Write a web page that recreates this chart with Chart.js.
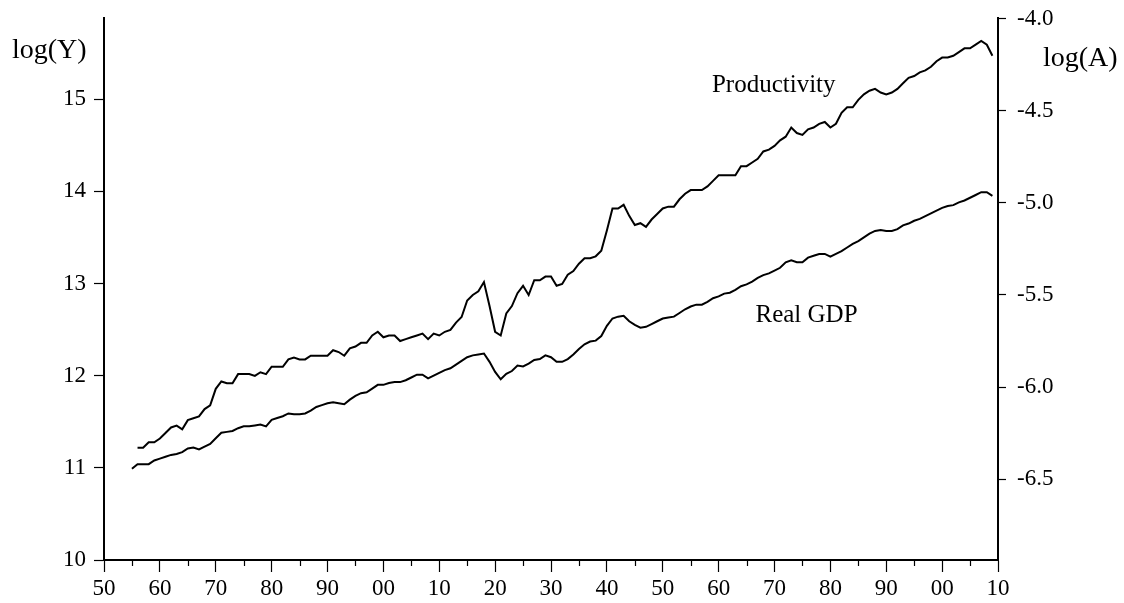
<!DOCTYPE html>
<html><head><meta charset="utf-8">
<script src="https://cdn.jsdelivr.net/npm/chart.js@4.4.1/dist/chart.umd.min.js"></script>
<style>html,body{margin:0;padding:0;background:#fff;}#wrap{width:1124px;height:603px;}</style>
</head><body><div id="wrap"><canvas id="c" width="1124" height="603"></canvas></div>
<script>
// ---- data ----
const gdpStartYear = 1855;
const realGDP = [
  10.99,11.04,11.04,11.04,11.08,                       // 1855-1859
  11.10,11.12,11.14,11.15,11.17,11.21,11.22,11.20,11.23,11.26, // 1860s
  11.32,11.38,11.39,11.40,11.43,11.45,11.45,11.46,11.47,11.45, // 1870s
  11.52,11.54,11.56,11.59,11.58,11.58,11.59,11.62,11.66,11.68, // 1880s
  11.70,11.71,11.70,11.69,11.74,11.78,11.81,11.82,11.86,11.90, // 1890s
  11.90,11.92,11.93,11.93,11.95,11.98,12.01,12.01,11.97,12.00, // 1900s
  12.03,12.06,12.08,12.12,12.16,12.20,12.22,12.23,12.24,12.15, // 1910s
  12.04,11.96,12.02,12.05,12.11,12.10,12.13,12.17,12.18,12.22, // 1920s
  12.20,12.15,12.15,12.18,12.23,12.29,12.34,12.37,12.38,12.43, // 1930s
  12.54,12.62,12.64,12.65,12.59,12.55,12.52,12.53,12.56,12.59, // 1940s
  12.62,12.63,12.64,12.68,12.72,12.75,12.77,12.77,12.80,12.84, // 1950s
  12.86,12.89,12.90,12.93,12.97,12.99,13.02,13.06,13.09,13.11, // 1960s
  13.14,13.17,13.23,13.25,13.23,13.23,13.28,13.30,13.32,13.32, // 1970s
  13.29,13.32,13.35,13.39,13.43,13.46,13.50,13.54,13.57,13.58, // 1980s
  13.57,13.57,13.59,13.63,13.65,13.68,13.70,13.73,13.76,13.79, // 1990s
  13.82,13.84,13.85,13.88,13.90,13.93,13.96,13.99,13.99,13.95  // 2000s
];
const prodStartYear = 1856;
const productivity = [
  -6.33,-6.33,-6.30,-6.30,                                     // 1856-1859
  -6.28,-6.25,-6.22,-6.21,-6.23,-6.18,-6.17,-6.16,-6.12,-6.10, // 1860s
  -6.01,-5.97,-5.98,-5.98,-5.93,-5.93,-5.93,-5.94,-5.92,-5.93, // 1870s
  -5.89,-5.89,-5.89,-5.85,-5.84,-5.85,-5.85,-5.83,-5.83,-5.83, // 1880s
  -5.83,-5.80,-5.81,-5.83,-5.79,-5.78,-5.76,-5.76,-5.72,-5.70, // 1890s
  -5.73,-5.72,-5.72,-5.75,-5.74,-5.73,-5.72,-5.71,-5.74,-5.71, // 1900s
  -5.72,-5.70,-5.69,-5.65,-5.62,-5.53,-5.50,-5.48,-5.43,-5.56, // 1910s
  -5.70,-5.72,-5.60,-5.56,-5.49,-5.45,-5.50,-5.42,-5.42,-5.40, // 1920s
  -5.40,-5.45,-5.44,-5.39,-5.37,-5.33,-5.30,-5.30,-5.29,-5.26, // 1930s
  -5.15,-5.03,-5.03,-5.01,-5.07,-5.12,-5.11,-5.13,-5.09,-5.06, // 1940s
  -5.03,-5.02,-5.02,-4.98,-4.95,-4.93,-4.93,-4.93,-4.91,-4.88, // 1950s
  -4.85,-4.85,-4.85,-4.85,-4.80,-4.80,-4.78,-4.76,-4.72,-4.71, // 1960s
  -4.69,-4.66,-4.64,-4.59,-4.62,-4.63,-4.60,-4.59,-4.57,-4.56, // 1970s
  -4.59,-4.57,-4.51,-4.48,-4.48,-4.44,-4.41,-4.39,-4.38,-4.40, // 1980s
  -4.41,-4.40,-4.38,-4.35,-4.32,-4.31,-4.29,-4.28,-4.26,-4.23, // 1990s
  -4.21,-4.21,-4.20,-4.18,-4.16,-4.16,-4.14,-4.12,-4.14,-4.20  // 2000s
];
const xTicks = [1850,1860,1870,1880,1890,1900,1910,1920,1930,1940,1950,1960,1970,1980,1990,2000,2010];
const xMinorTicks = [1855,1865,1875,1885,1895,1905,1915,1925,1935,1945,1955,1965,1975,1985,1995,2005];
const leftTicks = [10,11,12,13,14,15];
const rightTicks = [-6.5,-6.0,-5.5,-5.0,-4.5,-4.0];
const leftTitle = 'log(Y)';
const rightTitle = 'log(A)';
// series labels anchored in data space: [text, year (left edge), value (baseline), axis]
const seriesLabels = [
  ['Productivity', 1958.8, -4.395, 'yR'],
  ['Real GDP', 1966.6, 12.585, 'yL']
];

const SERIF = '"Liberation Serif", "Times New Roman", serif';
const toPts = (arr, start) => arr.map((v, i) => ({x: start + i, y: v}));

const decor = {
  id: 'decor',
  afterDraw(chart) {
    const ctx = chart.ctx, x = chart.scales.x, area = chart.chartArea;
    ctx.save();
    ctx.strokeStyle = '#000';
    ctx.lineWidth = 1.2;
    xMinorTicks.forEach(v => {
      const px = Math.round(x.getPixelForValue(v)) + 0.5;
      ctx.beginPath(); ctx.moveTo(px, area.bottom); ctx.lineTo(px, area.bottom + 6); ctx.stroke();
    });
    ctx.fillStyle = '#000';
    ctx.textBaseline = 'alphabetic';
    ctx.textAlign = 'left';
    ctx.font = '28px ' + SERIF;
    ctx.fillText(leftTitle, 12, 58);
    ctx.fillText(rightTitle, 1043, 66);
    ctx.font = '25px ' + SERIF;
    seriesLabels.forEach(([t, yr, val, ax]) => {
      ctx.fillText(t, x.getPixelForValue(yr), chart.scales[ax].getPixelForValue(val));
    });
    ctx.restore();
  }
};

const noVPad = s => { s.paddingTop = 0; s.paddingBottom = 0; };
const tickFont = {family: SERIF, size: 23};
new Chart(document.getElementById('c'), {
  type: 'line',
  data: {
    datasets: [
      {label: 'Real GDP', data: toPts(realGDP, gdpStartYear), yAxisID: 'yL',
       borderColor: '#000', borderWidth: 2, pointRadius: 0, tension: 0, fill: false},
      {label: 'Productivity', data: toPts(productivity, prodStartYear), yAxisID: 'yR',
       borderColor: '#000', borderWidth: 2, pointRadius: 0, tension: 0, fill: false}
    ]
  },
  options: {
    responsive: false, animation: false, devicePixelRatio: 1,
    layout: {padding: {top: 18, left: 0, right: 0, bottom: 0}},
    plugins: {legend: {display: false}, tooltip: {enabled: false}},
    scales: {
      x: {
        type: 'linear', position: 'bottom', min: 1850, max: 2010,
        afterBuildTicks: s => { s.ticks = xTicks.map(v => ({value: v})); },
        afterFit: s => { s.height = 43; s.paddingLeft = 0; s.paddingRight = 0; },
        ticks: {callback: v => String(v % 100).padStart(2, '0'), font: tickFont, color: '#000',
                padding: 3, maxRotation: 0, autoSkip: false},
        grid: {drawOnChartArea: false, drawTicks: true, tickLength: 12, tickColor: '#000', tickWidth: 1.2},
        border: {display: true, color: '#000', width: 2}
      },
      yL: {
        type: 'linear', position: 'left', min: 10, max: 15.88,
        afterBuildTicks: s => { s.ticks = leftTicks.map(v => ({value: v})); },
        afterFit: s => { s.width = 104; noVPad(s); },
        ticks: {callback: v => String(v), font: tickFont, color: '#000', padding: 8},
        grid: {drawOnChartArea: false, drawTicks: true, tickLength: 10, tickColor: '#000', tickWidth: 1.2},
        border: {display: true, color: '#000', width: 2}
      },
      yR: {
        type: 'linear', position: 'right', min: -6.94, max: -3.995,
        afterBuildTicks: s => { s.ticks = rightTicks.map(v => ({value: v})); },
        afterFit: s => { s.width = 126; noVPad(s); },
        ticks: {callback: v => Number(v).toFixed(1), font: tickFont, color: '#000', padding: 11},
        grid: {drawOnChartArea: false, drawTicks: true, tickLength: 8, tickColor: '#000', tickWidth: 1.2},
        border: {display: true, color: '#000', width: 2}
      }
    }
  },
  plugins: [decor]
});
</script></body></html>
